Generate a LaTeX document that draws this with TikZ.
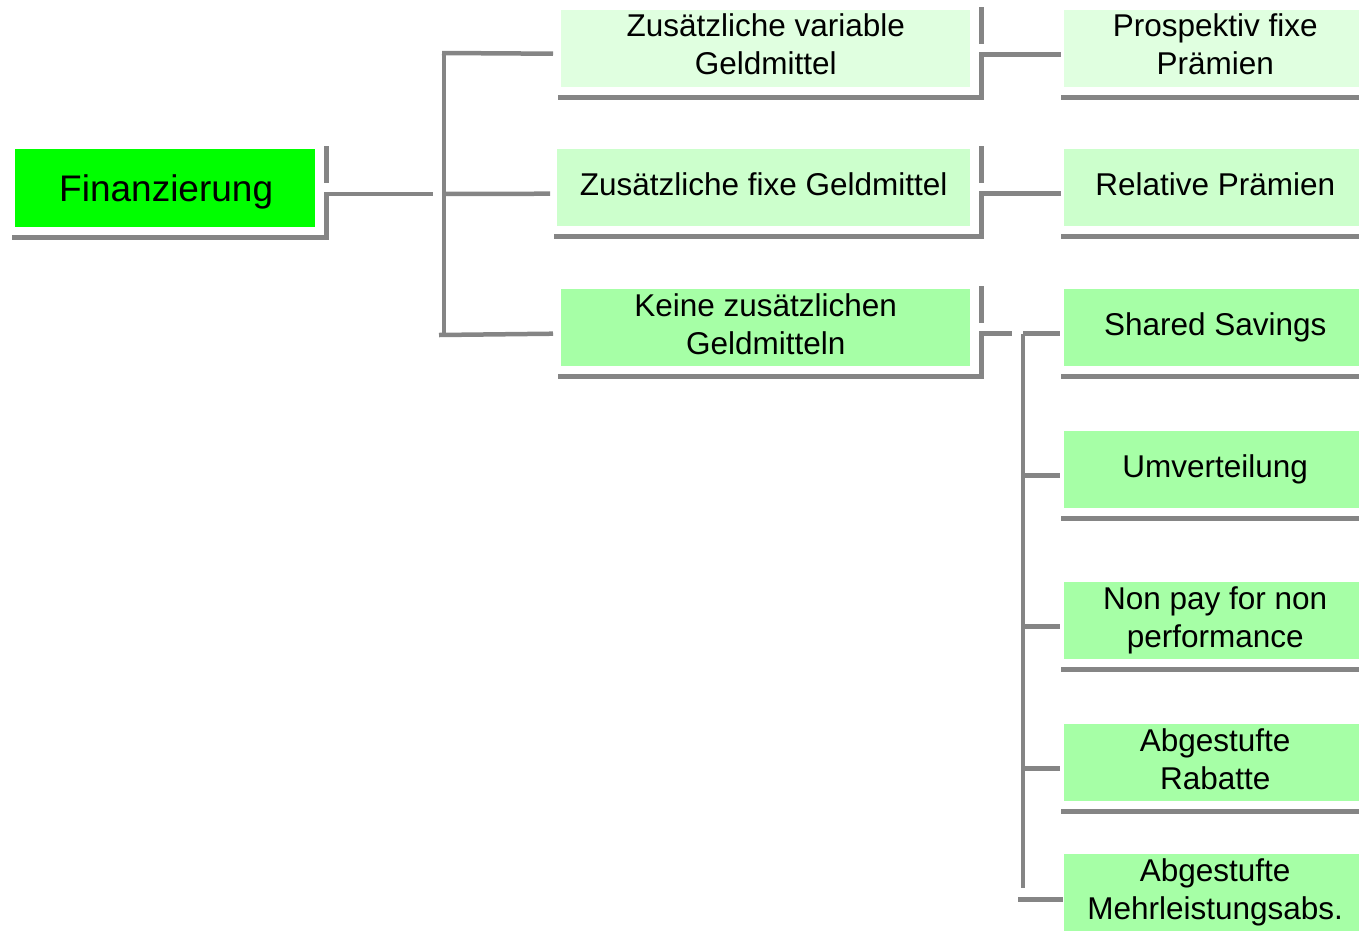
\documentclass[tikz,border=0pt]{standalone}
\usepackage{fontspec}
\setmainfont{Liberation Sans}
\usetikzlibrary{calc}
\definecolor{gline}{HTML}{858585}
\definecolor{cA}{HTML}{00FF00}
\definecolor{cB}{HTML}{E0FFE0}
\definecolor{cC}{HTML}{CCFFCC}
\definecolor{cD}{HTML}{A6FFA6}
\tikzset{
  box/.style={anchor=north west, inner sep=0pt},
  wbox/.style={box, minimum width=409pt, minimum height=77pt},
  rbox/.style={box, minimum width=300pt, minimum height=77pt},
  txt/.style={inner sep=0pt, align=center, text=black,
    font=\fontsize{31.5}{38}\selectfont},
  conn/.style={draw=gline, line width=4.5pt},
}
\begin{document}
\begin{tikzpicture}[x=1pt,y=-1pt]
\useasboundingbox (0,0) rectangle (1359,940);
% boxes
\node[box, fill=cA, minimum width=300pt, minimum height=78pt] (fin) at (15,149) {};
\node[wbox, fill=cB] (b1) at (561,10) {};
\node[wbox, fill=cC, minimum width=413pt] (b2) at (557,149) {};
\node[wbox, fill=cD] (b3) at (561,289) {};
\node[rbox, fill=cB] (p1) at (1064,10) {};
\node[rbox, fill=cC] (p2) at (1064,149) {};
\node[rbox, fill=cD] (s1) at (1064,289) {};
\node[rbox, fill=cD] (s2) at (1064,431) {};
\node[rbox, fill=cD] (s3) at (1064,582) {};
\node[rbox, fill=cD] (s4) at (1064,724) {};
\node[rbox, fill=cD] (s5) at (1064,854) {};
% texts
\node[txt, font=\fontsize{37}{44}\selectfont] (fint) at ($(fin.center)+(1,4)$) {Finanzierung};
\node[txt] (b1t) at ($(b1.center)+(0,-4)$) {Zusätzliche variable\\Geldmittel};
\node[txt] (b2t) at ($(b2.center)+(0,-3)$) {Zusätzliche fixe Geldmittel};
\node[txt] (b3t) at ($(b3.center)+(0,-3)$) {Keine zusätzlichen\\Geldmitteln};
\node[txt] (p1t) at ($(p1.center)+(1,-4)$) {Prospektiv fixe\\Prämien};
\node[txt] (p2t) at ($(p2.center)+(1,-3)$) {Relative Prämien};
\node[txt] (s1t) at ($(s1.center)+(1,0)$) {Shared Savings};
\node[txt] (s2t) at ($(s2.center)+(1,0)$) {Umverteilung};
\node[txt] (s3t) at ($(s3.center)+(1,0)$) {Non pay for non\\performance};
\node[txt] (s4t) at ($(s4.center)+(1,-3)$) {Abgestufte\\Rabatte};
\node[txt] (s5t) at ($(s5.center)+(1,0)$) {Abgestufte\\Mehrleistungsabs.};
% shadows of left/middle boxes
\foreach \n in {fin,b1,b2,b3}{
  \draw[conn] ($(\n.south west)+(-3,10)$) -- ($(\n.south east)+(11,10)$) -- ($(\n.east)+(11,6)$);
  \draw[conn] ($(\n.north east)+(11,-3)$) -- ($(\n.east)+(11,-5)$);
}
% shadows of right boxes
\foreach \n in {p1,p2,s1,s2,s3,s4}{
  \draw[conn] ($(\n.south west)+(-3,10)$) -- ($(\n.south east)+(0,10)$);
}
% level 1 connectors
\coordinate (t1) at (444,53);
\coordinate (t2) at (444,194);
\coordinate (t3) at (444,335);
\draw[conn] ($(fin.east)+(9,6)$) -- ($(fin.east)+(118,6)$);
\draw[conn] (t1) -- (t3);
\draw[conn] ($(t1)+(-2,0)$) -- ($(b1.west)+(-8,5)$);
\draw[conn] (t2) -- ($(b2.west)+(-7,6)$);
\draw[conn] ($(t3)+(-5,0)$) -- ($(b3.west)+(-8,6)$);
% level 2 connectors
\draw[conn] ($(b1.east)+(9,6)$) -- ($(p1.west)+(-3,6)$);
\draw[conn] ($(b2.east)+(9,6)$) -- ($(p2.west)+(-3,6)$);
\draw[conn] ($(b3.east)+(9,6)$) -- ($(b3.east)+(42,6)$);
\coordinate (u1) at (1023,334);
\coordinate (u5) at (1023,888);
\draw[conn] (u1) -- (u5);
\foreach \n in {s1,s2,s3,s4}{
  \draw[conn] (u1 |- {$(\n.west)+(0,6)$}) -- ($(\n.west)+(-4,6)$);
}
\draw[conn] ($(s5.west)+(-46,7)$) -- ($(s5.west)+(-1,7)$);
\end{tikzpicture}
\end{document}
